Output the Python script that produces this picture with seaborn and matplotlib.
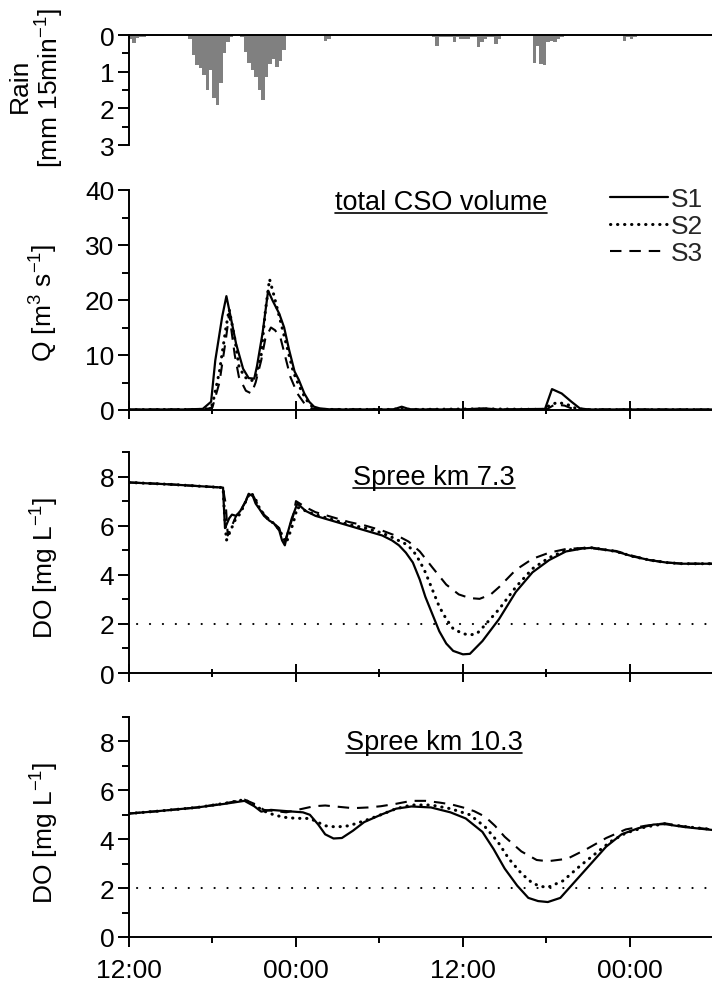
import numpy as np
import pandas as pd
import matplotlib
matplotlib.use("Agg")
import matplotlib.pyplot as plt
from matplotlib.lines import Line2D
from matplotlib.ticker import MultipleLocator, FixedLocator
import seaborn as sns

# ---------------- data (time in hours after 12:00 of day 1) ----------------
rain_t = [0.0, 0.25, 0.5, 0.75, 1.0, 1.25, 1.5, 1.75, 2.0, 2.25,
          4.25, 4.5, 4.75, 5.0, 5.25, 5.5, 5.75, 6.0, 6.25, 6.5, 6.75, 7.0, 7.25,
          8.0, 8.25, 8.5, 8.75, 9.0, 9.25, 9.5, 9.75, 10.0, 10.25, 10.5, 10.75, 11.0,
          14.0, 14.25, 14.5, 14.75, 15.0, 15.25, 15.5, 15.75,
          21.75, 22.0, 22.25, 22.5, 22.75, 23.0, 23.25, 23.5, 23.75, 24.0, 24.25,
          24.5, 24.75, 25.0, 25.25, 25.5, 25.75, 26.0, 26.25, 26.5, 26.75,
          29.0, 29.25, 29.5, 29.75, 30.0, 30.25, 30.5, 30.75, 31.0, 31.25,
          35.5, 35.75, 36.0, 36.25]
rain_mm = [0.10, 0.22, 0.08, 0.06, 0.05, 0.04, 0.03, 0.04, 0.03, 0.02,
           0.12, 0.55, 0.82, 0.90, 1.10, 1.50, 0.95, 1.72, 1.92, 1.30, 0.50, 0.20, 0.05,
           0.05, 0.45, 0.75, 0.95, 1.15, 1.50, 1.78, 1.15, 0.80, 0.65, 0.88, 0.70, 0.40,
           0.15, 0.10, 0.03, 0.03, 0.02, 0.03, 0.03, 0.02,
           0.05, 0.30, 0.05, 0.05, 0.05, 0.05, 0.20, 0.05, 0.10, 0.10, 0.10,
           0.05, 0.05, 0.32, 0.20, 0.10, 0.05, 0.05, 0.25, 0.10, 0.03,
           0.75, 0.30, 0.78, 0.82, 0.20, 0.15, 0.20, 0.12, 0.05, 0.03,
           0.15, 0.05, 0.12, 0.05]

# total CSO discharge [m3/s]
q_s1_t = [0, 2, 4, 5.3, 5.9, 6.2, 6.7, 7.0, 7.3, 7.7, 8.2, 8.6, 9.0, 9.2, 9.6, 10.0,
          10.3, 10.8, 11.15, 11.5, 11.9, 12.2, 12.6, 12.95, 13.3, 13.7, 14.5, 19.0,
          19.6, 20.2, 24.0, 25.5, 26.5, 29.9, 30.4, 31.1, 31.8, 32.4, 33.0, 38.0, 41.9]
q_s1 = [0.1, 0.1, 0.1, 0.2, 1.5, 9, 17, 20.7, 17, 12, 7.5, 5.8, 5.7, 8, 14, 21.7,
        20, 17.5, 15, 11, 7, 5.5, 3, 1.5, 0.6, 0.3, 0.1, 0.1,
        0.6, 0.1, 0.1, 0.3, 0.1, 0.2, 3.8, 3.0, 1.5, 0.3, 0.1, 0.1, 0.1]
q_s2_t = [0, 5.5, 6.0, 6.5, 6.97, 7.2, 7.6, 7.9, 8.3, 8.8, 9.1, 9.5, 9.8, 10.1, 10.4,
          10.9, 11.3, 11.8, 12.2, 12.7, 13.2, 13.8, 19.0, 19.6, 20.2, 25.5, 29.8,
          30.2, 30.8, 31.5, 32.2, 33, 41.9]
q_s2 = [0.05, 0.1, 1, 7, 15, 18.3, 13, 8, 6, 5.3, 6, 10, 18, 23.8, 21,
        16, 12, 7, 4.5, 2, 0.5, 0.1, 0.1, 0.4, 0.1, 0.2, 0.1,
        0.8, 1.4, 1.0, 0.2, 0.05, 0.05]
q_s3_t = [0, 5.5, 6.0, 6.5, 6.97, 7.2, 7.6, 7.9, 8.4, 8.8, 9.1, 9.5, 9.8, 10.2, 10.5,
          10.9, 11.2, 11.6, 12.1, 12.6, 13.1, 13.8, 30.0, 30.6, 31.3, 32.0, 41.9]
q_s3 = [0.05, 0.1, 0.5, 5, 13, 17.5, 10, 6, 3.5, 3, 5, 9, 13, 15, 14.5,
        13, 10, 6, 3, 1.2, 0.3, 0.1, 0.1, 1.0, 0.8, 0.1, 0.05]

# dissolved oxygen, Spree km 7.3 [mg/L]
do73_s1_t = [0, 3, 6.76, 6.8, 6.9, 7.2, 7.4, 7.7, 8.0, 8.4, 8.6, 8.9, 9.1, 9.35, 9.7,
             10.1, 10.4, 10.8, 11.0, 11.2, 11.4, 11.7, 12.1, 12.7, 13.4, 14.6, 15.8,
             17.0, 18.2, 18.9, 19.4, 19.9, 20.4, 20.9, 21.3, 21.8, 22.3, 22.8, 23.3,
             24.0, 24.5, 25.4, 26.6, 27.8, 29.0, 30.2, 31.4, 32.6, 33.3, 35.0, 36.2,
             37.4, 38.6, 39.8, 41.9]
do73_s1 = [7.76, 7.68, 7.55, 7.0, 5.9, 6.3, 6.45, 6.4, 6.6, 7.0, 7.3, 7.2, 6.9, 6.7, 6.4,
           6.2, 6.1, 5.8, 5.4, 5.2, 5.7, 6.3, 6.9, 6.6, 6.4, 6.2, 6.0,
           5.8, 5.6, 5.4, 5.2, 4.9, 4.5, 3.8, 3.1, 2.4, 1.7, 1.2, 0.9,
           0.76, 0.78, 1.3, 2.2, 3.3, 4.1, 4.6, 4.95, 5.07, 5.1, 4.95, 4.75,
           4.6, 4.5, 4.45, 4.45]
do73_s2_t = [0, 3, 6.76, 6.85, 7.0, 7.3, 7.6, 8.0, 8.4, 8.7, 9.0, 9.35, 9.7, 10.1, 10.4,
             10.8, 11.1, 11.3, 11.5, 11.8, 12.1, 12.7, 13.4, 14.6, 15.8, 17.0, 18.2,
             19.0, 19.9, 20.4, 20.9, 21.3, 21.8, 22.3, 22.8, 23.3, 24.0, 24.5, 25.0,
             25.5, 26.6, 27.8, 29.0, 30.2, 31.4, 32.6, 33.3, 35.0, 36.2, 37.4, 38.6,
             39.8, 41.9]
do73_s2 = [7.76, 7.68, 7.55, 6.6, 5.4, 5.8, 6.2, 6.5, 7.0, 7.35, 7.2, 6.75, 6.45, 6.2, 6.1,
           5.85, 5.5, 5.3, 5.6, 6.1, 6.75, 6.6, 6.45, 6.25, 6.05, 5.9, 5.7,
           5.5, 5.25, 5.0, 4.55, 4.1, 3.4, 2.7, 2.2, 1.8, 1.6, 1.55, 1.6,
           1.9, 2.6, 3.5, 4.25, 4.7, 5.0, 5.08, 5.1, 4.95, 4.75, 4.6, 4.5,
           4.45, 4.45]
do73_s3_t = [0, 3, 6.76, 6.85, 6.95, 7.1, 7.4, 7.7, 8.0, 8.4, 8.6, 8.9, 9.35, 9.7, 10.1,
             10.8, 11.0, 11.2, 11.4, 11.8, 12.0, 12.7, 13.4, 14.6, 15.8, 17.0, 18.2,
             18.9, 19.6, 20.1, 20.9, 21.8, 22.8, 23.7, 24.5, 25.2, 26.0, 26.6, 27.8,
             29.0, 30.2, 31.4, 32.9, 35.0, 36.2, 37.4, 38.6, 39.8, 41.9]
do73_s3 = [7.76, 7.68, 7.55, 7.2, 6.9, 5.6, 6.0, 6.4, 6.6, 7.0, 7.35, 7.25, 6.75, 6.45, 6.25,
           5.9, 5.5, 5.35, 5.7, 6.4, 7.0, 6.75, 6.55, 6.35, 6.15, 6.0, 5.8,
           5.65, 5.5, 5.35, 4.95, 4.3, 3.6, 3.2, 3.05, 3.02, 3.2, 3.5, 4.2,
           4.65, 4.9, 5.05, 5.1, 4.97, 4.77, 4.6, 4.5, 4.45, 4.45]

# dissolved oxygen, Spree km 10.3 [mg/L]
do103_s1_t = [0, 2.1, 4.9, 6.9, 8.3, 9.0, 9.5, 10.2, 11.3, 12.5, 13.0, 13.6, 14.1, 14.7,
              15.3, 16.1, 16.9, 18.1, 19.2, 20.3, 21.7, 23.1, 24.2, 25.4, 26.2, 27.0,
              27.9, 28.7, 29.4, 30.1, 31.0, 32.1, 33.2, 34.3, 35.4, 36.6, 37.7, 38.5,
              39.9, 41.9]
do103_s1 = [5.05, 5.15, 5.3, 5.45, 5.57, 5.35, 5.13, 5.2, 5.15, 5.1, 5.0, 4.6, 4.2, 4.03,
            4.05, 4.35, 4.7, 5.0, 5.25, 5.34, 5.3, 5.1, 4.85, 4.3, 3.6, 2.8,
            2.1, 1.6, 1.47, 1.43, 1.6, 2.3, 3.0, 3.7, 4.2, 4.45, 4.6, 4.62,
            4.5, 4.38]
do103_s2_t = [0, 2.1, 4.9, 6.9, 8.3, 9.0, 9.7, 10.4, 11.1, 11.9, 12.5, 13.0, 14.1, 14.9,
              15.8, 16.9, 18.1, 19.2, 20.3, 21.7, 23.1, 24.5, 25.6, 26.5, 27.3, 28.2,
              29.0, 29.6, 30.1, 31.2, 32.4, 33.5, 34.6, 35.7, 37.1, 38.5, 39.9, 41.9]
do103_s2 = [5.05, 5.15, 5.3, 5.47, 5.62, 5.4, 5.15, 5.0, 4.9, 4.86, 4.85, 4.85, 4.55, 4.5,
            4.55, 4.75, 5.0, 5.25, 5.4, 5.4, 5.25, 5.0, 4.5, 3.9, 3.2, 2.6,
            2.2, 2.07, 2.03, 2.3, 2.9, 3.4, 3.9, 4.25, 4.5, 4.63, 4.52, 4.4]
do103_s3_t = [0, 2.1, 4.9, 6.9, 8.3, 9.0, 9.7, 10.5, 11.3, 12.5, 13.3, 14.1, 15.0, 16.1,
              17.2, 18.1, 19.2, 20.3, 21.3, 22.3, 23.2, 24.0, 24.8, 25.6, 26.3, 27.0,
              28.2, 29.3, 30.1, 31.5, 32.9, 34.3, 35.7, 37.1, 38.5, 39.9, 41.9]
do103_s3 = [5.05, 5.15, 5.3, 5.47, 5.62, 5.45, 5.2, 5.15, 5.1, 5.25, 5.35, 5.38, 5.33, 5.27,
            5.3, 5.35, 5.45, 5.57, 5.57, 5.5, 5.42, 5.3, 5.15, 4.92, 4.55, 4.1,
            3.5, 3.15, 3.1, 3.2, 3.6, 4.05, 4.4, 4.55, 4.65, 4.52, 4.4]

do_limit = 2.0
x_tick_hours = [0, 12, 24, 36]
x_tick_labels = ["12:00", "00:00", "12:00", "00:00"]
scenario_names = ["S1", "S2", "S3"]

# ---------------- style ----------------
sns.set_theme(style="ticks")
plt.rcParams["font.family"] = ["Liberation Sans", "DejaVu Sans"]
plt.rcParams["mathtext.fontset"] = "custom"
plt.rcParams["mathtext.rm"] = "Liberation Sans"
plt.rcParams["mathtext.it"] = "Liberation Sans:italic"
plt.rcParams["mathtext.default"] = "regular"

FS = 19
SPINE_LW = 1.4
W, H = 712, 987
X_MAX = 41.9

line_styles = {
    "S1": dict(linestyle="-", lw=1.6),
    "S2": dict(linestyle=(0, (0.1, 2.2)), lw=2.2, dash_capstyle="round"),
    "S3": dict(linestyle=(0, (5.5, 3.8)), lw=1.5),
}

fig = plt.figure(figsize=(W / 100, H / 100), dpi=100)


def add_panel(top_px, bottom_px):
    return fig.add_axes([129 / W, 1 - bottom_px / H, 1 - 129 / W, (bottom_px - top_px) / H])


def style_panel(ax, xdir, xmaj, xmin):
    ax.set_facecolor("none")
    for s in ("top", "right"):
        ax.spines[s].set_visible(False)
    for s in ("left", "bottom"):
        ax.spines[s].set_linewidth(SPINE_LW)
        ax.spines[s].set_color("black")
    ax.set_xlim(0, X_MAX)
    ax.xaxis.set_major_locator(FixedLocator(x_tick_hours))
    ax.xaxis.set_minor_locator(FixedLocator([6, 18, 30]))
    ax.tick_params(axis="x", which="major", direction=xdir, length=xmaj, width=SPINE_LW,
                   color="black", labelsize=FS, pad=8, labelcolor="black")
    ax.tick_params(axis="x", which="minor", direction=xdir, length=xmin, width=SPINE_LW,
                   color="black")
    ax.tick_params(axis="y", which="major", direction="out", length=7.7, width=SPINE_LW,
                   color="black", labelsize=FS, pad=3, labelcolor="black")
    ax.tick_params(axis="y", which="minor", direction="out", length=4.8, width=SPINE_LW,
                   color="black", left=True)
    ax.set_xlabel("")
    ax.set_ylabel("")
    ax.grid(False)


# ---------------- rain ----------------
ax_r = add_panel(36, 146)
rain_df = pd.DataFrame({"t_mid": np.asarray(rain_t) + 0.125, "mm": rain_mm})
sns.histplot(data=rain_df, x="t_mid", weights="mm", binwidth=0.25, binrange=(0, 42),
             ax=ax_r, color="#808080", alpha=1, linewidth=0, element="bars")
style_panel(ax_r, "out", 0, 0)
ax_r.set_ylim(3, 0)
ax_r.spines["bottom"].set_visible(False)
ax_r.spines["top"].set_visible(True)
ax_r.spines["top"].set_linewidth(SPINE_LW)
ax_r.spines["top"].set_color("black")
ax_r.tick_params(axis="x", which="both", bottom=False, top=False, labelbottom=False)
ax_r.yaxis.set_major_locator(FixedLocator([0, 1, 2, 3]))
ax_r.yaxis.set_minor_locator(FixedLocator([0.5, 1.5, 2.5]))


def draw_series(ax, series):
    for name, (t, v) in zip(scenario_names, series):
        sns.lineplot(x=t, y=v, ax=ax, color="black", **line_styles[name])


# ---------------- CSO discharge ----------------
ax_q = add_panel(191, 411)
draw_series(ax_q, [(q_s1_t, q_s1), (q_s2_t, q_s2), (q_s3_t, q_s3)])
style_panel(ax_q, "inout", 13, 6)
ax_q.set_ylim(0, 40)
ax_q.yaxis.set_major_locator(MultipleLocator(10))
ax_q.yaxis.set_minor_locator(MultipleLocator(5))
ax_q.tick_params(axis="x", labelbottom=False)

handles = [Line2D([], [], color="black", **line_styles[n]) for n in scenario_names]
ax_q.legend(handles, scenario_names, loc="upper left", bbox_to_anchor=(610 / W, 1 - 188 / H),
            bbox_transform=fig.transFigure, frameon=False, fontsize=FS, borderpad=0,
            borderaxespad=0, handlelength=2.2, handletextpad=0.12, labelspacing=0.12)

# ---------------- DO panels ----------------
ax_d1 = add_panel(453, 674)
draw_series(ax_d1, [(do73_s1_t, do73_s1), (do73_s2_t, do73_s2), (do73_s3_t, do73_s3)])
ax_d2 = add_panel(718, 938)
draw_series(ax_d2, [(do103_s1_t, do103_s1), (do103_s2_t, do103_s2), (do103_s3_t, do103_s3)])

for ax, xdir, lmaj, lmin in ((ax_d1, "inout", 13, 6), (ax_d2, "out", 7.2, 4)):
    sns.lineplot(x=[0.6, X_MAX], y=[do_limit, do_limit], ax=ax, color="black", lw=1.5,
                 linestyle=(0, (0.1, 6.1)), dash_capstyle="round")
    style_panel(ax, xdir, lmaj, lmin)
    ax.set_ylim(0, 9)
    ax.yaxis.set_major_locator(FixedLocator([0, 2, 4, 6, 8]))
    ax.yaxis.set_minor_locator(FixedLocator([1, 3, 5, 7, 9]))

ax_d1.tick_params(axis="x", labelbottom=False)
ax_d2.set_xticklabels(x_tick_labels)

# ---------------- axis titles ----------------
def vlabel(x_px, y_px, text):
    fig.text(x_px / W, 1 - y_px / H, text, rotation=90, ha="center", va="center",
             fontsize=FS, color="black")


vlabel(20, 86, "Rain")
vlabel(50, 88, "[mm 15min$^{-1}$]")
vlabel(44, 303, "Q [m$^3$ s$^{-1}$]")
vlabel(45, 568, "DO [mg L$^{-1}$]")
vlabel(45, 833, "DO [mg L$^{-1}$]")

# ---------------- underlined panel captions ----------------
captions = [(441, 210, "total CSO volume"), (434, 485, "Spree km 7.3"),
            (434, 750, "Spree km 10.3")]
cap_texts = [fig.text(x / W, 1 - y / H, s, ha="center", va="baseline", fontsize=FS + 0.5,
                      color="black") for x, y, s in captions]
fig.canvas.draw()
renderer = fig.canvas.get_renderer()
for (x, y, s), t in zip(captions, cap_texts):
    bb = t.get_window_extent(renderer)
    uy = (H - y - 4) / H
    fig.add_artist(Line2D([bb.x0 / W, bb.x1 / W], [uy, uy], transform=fig.transFigure,
                          color="black", lw=1.2))

fig.savefig("out.png", dpi=100)
